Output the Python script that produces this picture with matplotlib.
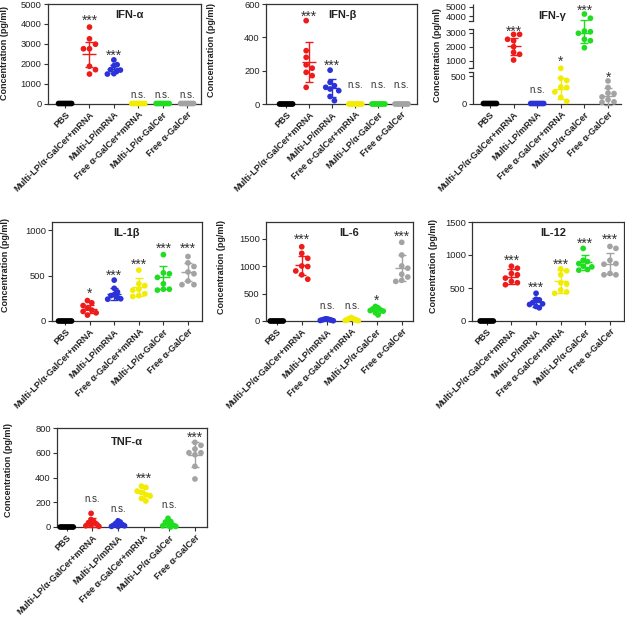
import numpy as np
import matplotlib
matplotlib.use('Agg')
import matplotlib.pyplot as plt
from matplotlib.transforms import offset_copy

plt.rcParams['font.family'] = ['Liberation Sans', 'DejaVu Sans']

groups = ['PBS', 'Multi-LP/α-GalCer+mRNA', 'Multi-LP/mRNA',
          'Free α-GalCer+mRNA', 'Multi-LP/α-GalCer', 'Free α-GalCer']
colors = ['#000000', '#ee1b1b', '#2a32d8', '#f2ec00', '#1fdd1f', '#a3a3a3']
zeros = [0, 0, 0, 0, 0, 0, 0, 0]

# IFN-alpha
ifna = [zeros,
        [3840, 3250, 2980, 2750, 2750, 1870, 1700, 1480],
        [2190, 1950, 1900, 1700, 1680, 1650, 1500, 1480],
        zeros, zeros, zeros]
ifna_mean = [0, 2475, 1750, 0, 0, 0]
ifna_sd = [0, 625, 200, 0, 0, 0]
ifna_sig = ['', '***', '***', 'n.s.', 'n.s.', 'n.s.']
ifna_sig_y = [0, 4330, 2600, 420, 420, 420]

# IFN-beta
ifnb = [zeros,
        [500, 320, 280, 235, 215, 190, 170, 100],
        [203, 130, 110, 100, 90, 80, 45, 20],
        zeros, zeros, zeros]
ifnb_mean = [0, 250, 95, 0, 0, 0]
ifnb_sd = [0, 120, 55, 0, 0, 0]
ifnb_sig = ['', '***', '***', 'n.s.', 'n.s.', 'n.s.']
ifnb_sig_y = [0, 544, 254, 114, 114, 114]

# IFN-gamma (broken axis)
ifng = [zeros,
        [2900, 2900, 2550, 2450, 2020, 1620, 1480, 1070],
        zeros,
        [640, 460, 420, 300, 290, 210, 110, 40],
        [4220, 3780, 3140, 3090, 2980, 2550, 2450, 1950],
        [410, 290, 190, 180, 120, 70, 30, 20]]
ifng_mean = [0, 2050, 0, 270, 2980, 130]
ifng_sd = [0, 620, 0, 190, 700, 150]
ifng_sig = ['', '***', 'n.s.', '*', '***', '*']
ifng_sig_y = [0, 3336, 244, 1214, 5000, 537]

# IL-1beta
il1b = [zeros,
        [225, 200, 170, 140, 120, 105, 90, 65],
        [450, 360, 320, 290, 280, 260, 245, 240],
        [560, 410, 390, 350, 340, 300, 280, 270],
        [730, 530, 520, 480, 410, 350, 350, 340],
        [710, 640, 600, 540, 520, 440, 400, 400]]
il1b_mean = [0, 130, 300, 370, 480, 535]
il1b_sd = [0, 45, 68, 98, 125, 100]
il1b_sig = ['', '*', '***', '***', '***', '***']
il1b_sig_y = [0, 340, 537, 663, 833, 833]

# IL-6
il6 = [zeros,
       [1350, 1230, 1140, 1000, 990, 910, 840, 760],
       [40, 35, 30, 25, 20, 15, 10, 5],
       [60, 50, 40, 30, 25, 20, 10, 5],
       [265, 240, 220, 200, 190, 180, 150, 110],
       [1430, 1200, 1000, 960, 850, 800, 740, 720]]
il6_mean = [0, 1010, 22, 30, 195, 960]
il6_sd = [0, 165, 12, 18, 50, 235]
il6_sig = ['', '***', 'n.s.', 'n.s.', '*', '***']
il6_sig_y = [0, 1548, 255, 255, 425, 1590]

# IL-12
il12 = [zeros,
        [830, 800, 720, 700, 650, 600, 580, 550],
        [420, 330, 320, 280, 260, 250, 220, 200],
        [790, 760, 700, 580, 560, 470, 440, 420],
        [1100, 920, 900, 870, 830, 820, 780, 770],
        [1130, 1100, 920, 870, 860, 720, 700, 700]]
il12_mean = [0, 670, 285, 600, 890, 870]
il12_sd = [0, 115, 70, 175, 113, 165]
il12_sig = ['', '***', '***', '***', '***', '***']
il12_sig_y = [0, 970, 555, 904, 1232, 1283]

# TNF-alpha
tnfa = [zeros,
        [110, 60, 45, 35, 25, 15, 10, 5],
        [50, 40, 30, 20, 15, 10, 5, 5],
        [330, 320, 290, 280, 260, 250, 230, 210],
        [70, 45, 40, 20, 15, 10, 5, 0],
        [684, 660, 630, 600, 600, 584, 490, 388]]
tnfa_mean = [0, 35, 22, 271, 25, 585]
tnfa_sd = [0, 35, 16, 42, 23, 100]
tnfa_sig = ['', 'n.s.', 'n.s.', '***', 'n.s.', '***']
tnfa_sig_y = [0, 220, 145, 417, 175, 754]

panels = [
    ('IFN-α', ifna, ifna_mean, ifna_sd, ifna_sig, ifna_sig_y, [0, 1000, 2000, 3000, 4000, 5000], 5000),
    ('IFN-β', ifnb, ifnb_mean, ifnb_sd, ifnb_sig, ifnb_sig_y, [0, 200, 400, 600], 600),
    ('IFN-γ', ifng, ifng_mean, ifng_sd, ifng_sig, ifng_sig_y, [0, 500, 1000, 2000, 3000, 4000, 5000], 5330),
    ('IL-1β', il1b, il1b_mean, il1b_sd, il1b_sig, il1b_sig_y, [0, 500, 1000], 1090),
    ('IL-6', il6, il6_mean, il6_sd, il6_sig, il6_sig_y, [0, 500, 1000, 1500], 1800),
    ('IL-12', il12, il12_mean, il12_sd, il12_sig, il12_sig_y, [0, 500, 1000, 1500], 1500),
    ('TNF-α', tnfa, tnfa_mean, tnfa_sd, tnfa_sig, tnfa_sig_y, [0, 200, 400, 600, 800], 800),
]

# layout in pixels: axes rect (left, top, right, bottom), x padding, title centre, ylabel centre
layout = [
    ((48, 4, 201, 103.5), (0.70, 0.57), (129, 15), (5, 53)),
    ((266, 4, 417, 104), (0.87, 0.67), (342, 15), (211, 50)),
    ((473, 4, 621, 103.5), (0.72, 0.55), (552, 15.7), (437, 55)),
    ((52, 222, 202, 321), (0.53, 0.57), (126, 233), (6, 265)),
    ((266, 222, 413, 321), (0.43, 0.45), (349, 233), (222, 267)),
    ((472, 222, 624, 321), (0.60, 0.57), (553, 233), (433, 266)),
    ((57, 428, 207, 527), (0.38, 0.47), (127, 442), (9, 470)),
]

# piecewise mapping for the broken IFN-gamma axis
brk_v = [0, 650, 1000, 3300, 3800, 5000, 5330]
brk_p = [0, 35.75, 42.5, 74.7, 85.7, 96.5, 99.5]


def fwd(v):
    v = np.asarray(v, float)
    return np.where(v < 0, v * 0.055,
                    np.where(v > 5330, 99.5 + (v - 5330) * 0.009, np.interp(v, brk_v, brk_p)))


def inv(p):
    p = np.asarray(p, float)
    return np.where(p < 0, p / 0.055,
                    np.where(p > 99.5, 5330 + (p - 99.5) / 0.009, np.interp(p, brk_p, brk_v)))


def swarm(ax, x0, vals, dia=5.4, step=6.0, maxw=6.5):
    vals = np.asarray(vals, float)
    ys = ax.transData.transform(np.column_stack([np.full(len(vals), x0), vals]))[:, 1]
    offs = np.zeros(len(vals))
    placed = []
    cands = [0.0]
    for j in range(1, 20):
        cands += [j * step, -j * step]
    for i in np.argsort(-vals, kind='stable'):
        for c in cands:
            if all((c - px) ** 2 + (ys[i] - py) ** 2 >= dia ** 2 for px, py in placed):
                offs[i] = c
                placed.append((c, ys[i]))
                break
    offs -= (offs.max() + offs.min()) / 2
    m = np.abs(offs).max()
    if m > maxw:
        offs *= maxw / m
    ppu = ax.transData.transform((1, 0))[0] - ax.transData.transform((0, 0))[0]
    return x0 + offs / ppu, ppu


W, H = 625, 621
fig = plt.figure(figsize=(6.25, 6.21), dpi=100)
spine_c = '#333333'

for (title, pts, mean, sd, sig, sig_y, yticks, ymax), (rect, xpad, tpos, ypos) in zip(panels, layout):
    l, t, r, b = rect
    ax = fig.add_axes([l / W, 1 - b / H, (r - l) / W, (b - t) / H])
    broken = title == 'IFN-γ'
    if broken:
        ax.set_yscale('function', functions=(fwd, inv))
    ax.set_xlim(-xpad[0], 5 + xpad[1])
    ax.set_ylim(0, ymax)
    ax.set_yticks(yticks)
    ax.minorticks_off()
    ax.set_xticks(range(6))
    ax.set_xticklabels(groups, rotation=45, ha='right', rotation_mode='anchor',
                       fontsize=6.5, fontweight='bold')
    ax.tick_params(axis='y', direction='out', length=3, width=0.8, labelsize=6.7,
                   pad=1.5, color=spine_c, labelcolor='#222222')
    ax.tick_params(axis='x', direction='out', length=3, width=0.8, pad=1.5,
                   color=spine_c, labelcolor='#222222')
    for s in ax.spines.values():
        s.set_linewidth(0.9)
        s.set_color(spine_c)

    for i in range(6):
        xs, ppu = swarm(ax, i, pts[i])
        ax.scatter(xs, pts[i], s=17, color=colors[i], edgecolors='none',
                   zorder=3, clip_on=False)
        ax.errorbar(i, mean[i], yerr=sd[i], fmt='none', ecolor=colors[i],
                    elinewidth=1, capsize=3, capthick=1, zorder=4, clip_on=False)
        hw = 7 / ppu
        ax.hlines(mean[i], i - hw, i + hw, colors=colors[i], lw=1, zorder=4, clip_on=False)
        if sig[i]:
            if '*' in sig[i]:
                tr = offset_copy(ax.transData, fig=fig, y=-5.5, units='points')
                ax.text(i, sig_y[i], sig[i], transform=tr, ha='center', va='baseline',
                        fontsize=10, color='#333333')
            else:
                tr = offset_copy(ax.transData, fig=fig, y=-1.8, units='points')
                ax.text(i, sig_y[i], sig[i], transform=tr, ha='center', va='baseline',
                        fontsize=7, color='#333333')

    if broken:
        ax.spines['top'].set_visible(False)
        ax.spines['right'].set_visible(False)
        ax.spines['left'].set_visible(False)
        hgt = b - t
        dx = 4 / (r - l)
        for y0, y1 in [(0, 31.8), (35.8, 74.2), (82.8, 99.5)]:
            ax.plot([0, 0], [y0 / hgt, y1 / hgt], transform=ax.transAxes, color=spine_c,
                    lw=0.9, clip_on=False, solid_capstyle='butt')
        for yb in [31.8, 35.8, 74.2, 82.8]:
            ax.plot([0, -dx], [yb / hgt, yb / hgt], transform=ax.transAxes, color=spine_c,
                    lw=0.9, clip_on=False)

    fig.text(tpos[0] / W, 1 - tpos[1] / H, title, ha='center', va='center',
             fontsize=8, fontweight='bold', color='#222222')
    fig.text(ypos[0] / W, 1 - ypos[1] / H, 'Concentration (pg/ml)', rotation=90,
             ha='center', va='center', fontsize=6.5, fontweight='bold', color='#222222')

fig.savefig('out.png', dpi=100)
